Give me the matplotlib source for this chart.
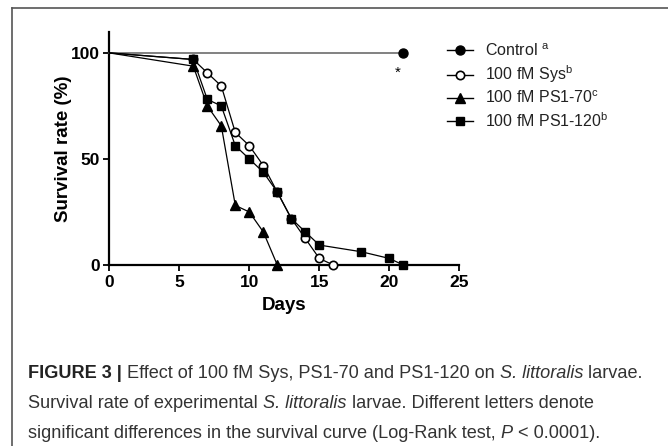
import matplotlib
matplotlib.use("Agg")
import matplotlib.pyplot as plt
from matplotlib.lines import Line2D

# survival data (days, % alive)
control_days = [0, 21]
control_surv = [100, 100]

sys_days = [0, 6, 7, 8, 9, 10, 11, 12, 13, 14, 15, 16]
sys_surv = [100, 96.9, 90.6, 84.4, 62.5, 56.25, 46.9, 34.4, 21.9, 12.5, 3.1, 0]

ps70_days = [0, 6, 7, 8, 9, 10, 11, 12]
ps70_surv = [100, 93.75, 75, 65.6, 28.1, 25, 15.6, 0]

ps120_days = [0, 6, 7, 8, 9, 10, 11, 12, 13, 14, 15, 18, 20, 21]
ps120_surv = [100, 96.9, 78.1, 75, 56.25, 50, 43.75, 34.4, 21.9, 15.6, 9.4, 6.25, 3.1, 0]

labels = ["Control $^\\mathregular{a}$", "100 fM Sys$^\\mathregular{b}$",
          "100 fM PS1-70$^\\mathregular{c}$", "100 fM PS1-120$^\\mathregular{b}$"]

x_ticks = [0, 5, 10, 15, 20, 25]
y_ticks = [0, 50, 100]

plt.rcParams['font.family'] = ['Liberation Sans', 'DejaVu Sans']
plt.rcParams['mathtext.fontset'] = 'custom'
plt.rcParams['mathtext.rm'] = 'Liberation Sans'

W, H = 668, 446
fig = plt.figure(figsize=(W / 100, H / 100), dpi=100)
ax = fig.add_axes([109.3 / W, 1 - 265 / H, 350 / W, (265 - 31.7) / H])

ms = 6
ax.plot(control_days, control_surv, color='#777777', lw=1.3, marker='o', ms=ms + 0.5,
        mfc='black', mec='black', markevery=[1], clip_on=False, zorder=3)
ax.plot(sys_days, sys_surv, color='black', lw=0.9, marker='o', ms=ms,
        mfc='white', mec='black', mew=1.2, markevery=list(range(1, len(sys_days))),
        clip_on=False, zorder=4)
ax.plot(ps70_days, ps70_surv, color='black', lw=0.9, marker='^', ms=ms + 1,
        mfc='black', mec='black', markevery=list(range(1, len(ps70_days))),
        clip_on=False, zorder=5)
ax.plot(ps120_days, ps120_surv, color='black', lw=0.9, marker='s', ms=ms,
        mfc='black', mec='black', markevery=list(range(1, len(ps120_days))),
        clip_on=False, zorder=6)

ax.text(20.6, 90.5, '*', ha='center', va='center', fontsize=11)

ax.set_xlim(0, 25)
ax.set_ylim(0, 110)
ax.set_xticks(x_ticks)
ax.set_yticks(y_ticks)
for s in ['top', 'right']:
    ax.spines[s].set_visible(False)
for s in ['left', 'bottom']:
    ax.spines[s].set_linewidth(1.6)
ax.tick_params(axis='both', direction='out', width=1.3, labelsize=12.5)
ax.tick_params(axis='x', length=4, pad=3)
ax.tick_params(axis='y', length=4.5, pad=2)
for lab in ax.get_xticklabels() + ax.get_yticklabels():
    lab.set_fontweight('bold')
ax.set_xlabel('Days', fontsize=13.5, fontweight='bold', labelpad=5)
ax.set_ylabel('Survival rate (%)', fontsize=13.5, fontweight='bold')
ax.yaxis.set_label_coords(-0.108, 0.5)

handles = [
    Line2D([], [], color='black', lw=1, marker='o', ms=ms + 0.5, mfc='black', mec='black'),
    Line2D([], [], color='black', lw=1, marker='o', ms=ms, mfc='white', mec='black', mew=1.2),
    Line2D([], [], color='black', lw=1, marker='^', ms=ms + 1, mfc='black', mec='black'),
    Line2D([], [], color='black', lw=1, marker='s', ms=ms, mfc='black', mec='black'),
]
leg = fig.legend(handles, labels, loc='upper left', bbox_to_anchor=(447 / W, 1 - 42 / H),
                 frameon=False, fontsize=11.5, handlelength=1.65, handletextpad=0.75,
                 labelspacing=0.3, borderpad=0, borderaxespad=0, numpoints=1)
for t in leg.get_texts():
    t.set_color('#222222')

# border of the figure panel
fig.add_artist(Line2D([11.7 / W, 1], [1 - 8.3 / H, 1 - 8.3 / H], color='#555555', lw=1.2))
fig.add_artist(Line2D([11.7 / W, 11.7 / W], [0, 1 - 8.3 / H], color='#555555', lw=1.2))

# caption with mixed styles
renderer = fig.canvas.get_renderer()
cap_size = 13.1


def put_line(x_px, y_px, parts):
    x = x_px
    for text, style, weight, color in parts:
        t = fig.text(x / W, 1 - y_px / H, text, fontsize=cap_size, style=style,
                     fontweight=weight, color=color, va='baseline', ha='left')
        x += t.get_window_extent(renderer).width


col = '#333333'
put_line(28.3, 378, [("FIGURE 3 |", 'normal', 'bold', '#222222'),
                     (" Effect of 100 fM Sys, PS1-70 and PS1-120 on", 'normal', 'normal', col),
                     (" S. littoralis", 'italic', 'normal', col),
                     (" larvae.", 'normal', 'normal', col)])
put_line(28.3, 408, [("Survival rate of experimental", 'normal', 'normal', col),
                     (" S. littoralis", 'italic', 'normal', col),
                     (" larvae. Different letters denote", 'normal', 'normal', col)])
put_line(28.3, 437.5, [("significant differences in the survival curve (Log-Rank test,", 'normal', 'normal', col),
                       (" P", 'italic', 'normal', col),
                       (" < 0.0001).", 'normal', 'normal', col)])

fig.savefig('out.png', dpi=100)
